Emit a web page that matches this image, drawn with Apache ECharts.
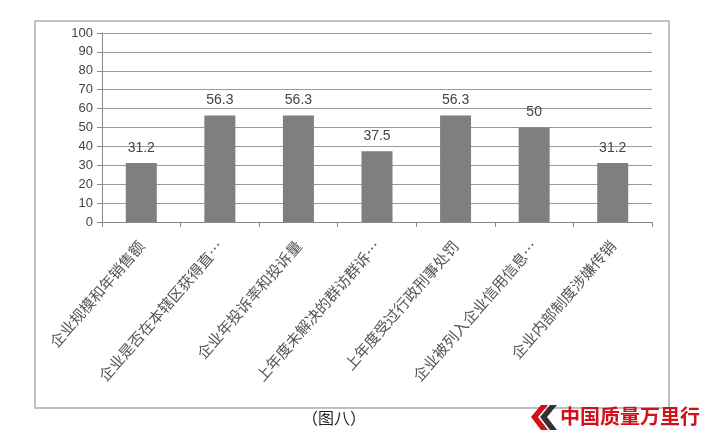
<!DOCTYPE html>
<html><head><meta charset="utf-8">
<script src="https://cdn.jsdelivr.net/npm/echarts@6/dist/echarts.min.js"></script>
<style>html,body{margin:0;padding:0;background:#fff}#c{width:709px;height:447px}</style>
</head><body><div id="c"></div>
<script>
const categories = ["企业规模和年销售额","企业是否在本辖区获得直…","企业年投诉率和投诉量","上年度未解决的群访群诉…","上年度受过行政刑事处罚","企业被列入企业信用信息…","企业内部制度涉嫌传销"];
const values = [31.2, 56.3, 56.3, 37.5, 56.3, 50, 31.2];
const yTicks = [0,10,20,30,40,50,60,70,80,90,100];
const caption = "（图八）";
const logoText = "中国质量万里行";

const chart = echarts.init(document.getElementById('c'), null, {renderer:'canvas'});
chart.setOption({
  animation:false,
  backgroundColor:'#fff',
  grid:{left:102, right:57, top:33, bottom:225},
  xAxis:{
    type:'category', data:categories,
    axisLine:{lineStyle:{color:'#888', width:1}},
    axisTick:{show:true, length:5, lineStyle:{color:'#888'}},
    axisLabel:{rotate:49, margin:21, fontSize:15, color:'#555', fontFamily:'"Noto Sans CJK SC", sans-serif', interval:0}
  },
  yAxis:{
    type:'value', min:yTicks[0], max:yTicks[yTicks.length-1], interval:10,
    axisLine:{show:true, lineStyle:{color:'#888'}},
    axisTick:{show:true, length:5, lineStyle:{color:'#888'}},
    splitLine:{lineStyle:{color:'#999', width:1}},
    axisLabel:{fontSize:13, color:'#444', margin:9, fontFamily:'"Liberation Sans", Arial, sans-serif'}
  },
  series:[{
    type:'bar', data:values, barWidth:31,
    itemStyle:{color:'#7f7f7f'},
    label:{show:true, position:'top', distance:8, fontSize:14, color:'#444', fontFamily:'"Liberation Sans", Arial, sans-serif'}
  }],
  graphic:[
    {type:'rect', shape:{x:35, y:21, width:634, height:387}, style:{fill:null, stroke:'#c0c0c0', lineWidth:2}, z:-1},
    {type:'text', left:302, top:410, style:{text:caption, fontSize:16, fill:'#222', fontFamily:'"Noto Sans CJK SC", sans-serif'}},
    {type:'polygon', shape:{points:[[541,405],[548,405],[538,417],[548,430],[541,430],[531,417]]}, style:{fill:'#d0121b'}},
    {type:'polygon', shape:{points:[[550,405],[557,405],[547,417],[557,430],[550,430],[540,417]]}, style:{fill:'#333'}},
    {type:'text', left:560, top:406, style:{text:logoText, fontSize:20, fontWeight:'bold', fill:'#d0121b', fontFamily:'"Noto Sans CJK SC", sans-serif'}}
  ]
});
</script></body></html>
